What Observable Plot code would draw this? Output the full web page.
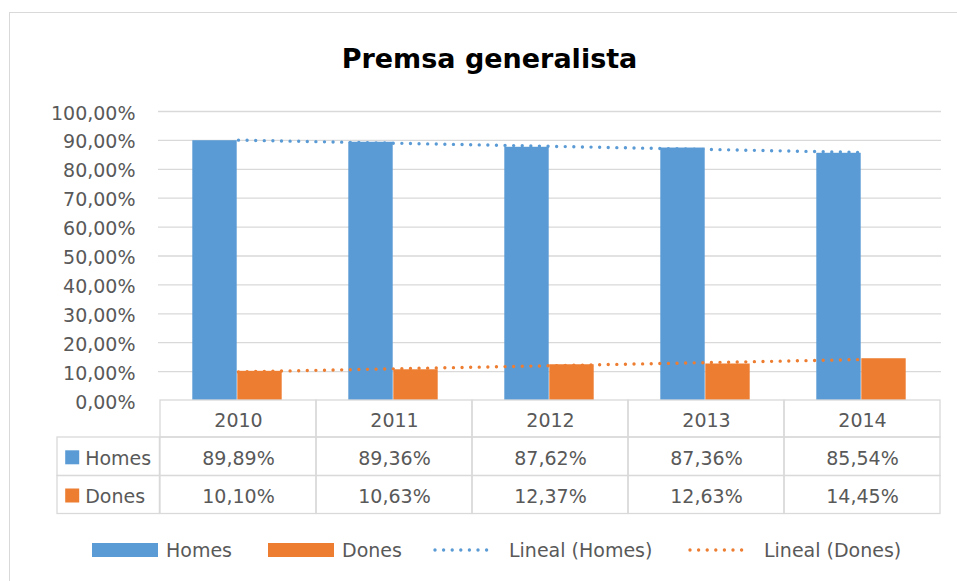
<!DOCTYPE html>
<html><head><meta charset="utf-8">
<script src="https://cdn.jsdelivr.net/npm/d3@7"></script>
<script src="https://cdn.jsdelivr.net/npm/@observablehq/plot@0.6"></script>
<style>
html,body{margin:0;padding:0;background:#fff;}
body{width:957px;height:581px;position:relative;overflow:hidden;font-family:"DejaVu Sans",sans-serif;color:#595959;}
#chart{position:absolute;left:0;top:0;}
#frame{position:absolute;left:9px;top:12px;width:980px;height:600px;border:1.3px solid #d9d9d9;box-sizing:border-box;pointer-events:none;}
#title{position:absolute;left:0;top:44.5px;width:979px;text-align:center;font-weight:bold;font-size:27px;line-height:27px;color:#000;}
.leg{position:absolute;top:541px;height:18px;display:flex;align-items:center;font-size:19px;line-height:18px;color:#595959;white-space:nowrap;}
.sw{display:inline-block;width:66px;height:14px;margin-right:8px;}
.dl{margin-right:12px;}
</style>
</head><body>
<div id="chart"></div>
<div id="frame"></div>
<div id="title">Premsa generalista</div>
<div id="legend"></div>
<script>
// ---- data ----
const years = ["2010", "2011", "2012", "2013", "2014"];
const homes = [89.89, 89.36, 87.62, 87.36, 85.54];
const dones = [10.10, 10.63, 12.37, 12.63, 14.45];
const yTicks = [0, 10, 20, 30, 40, 50, 60, 70, 80, 90, 100];
const seriesNames = ["Homes", "Dones"];
const trendNames = ["Lineal (Homes)", "Lineal (Dones)"];
const colors = ["#5B9BD5", "#ED7D31"];

// ---- layout ----
const W = 957, H = 581, mL = 158, mR = 16, mT = 111, mB = 181;
const bw = (W - mL - mR) / years.length;
const barW = 45;
const grid = "#d9d9d9", txt = "#595959";
const fmt = v => v.toFixed(2).replace(".", ",") + "%";
const rows = years.map((year, i) => ({year, homes: homes[i], dones: dones[i]}));

function trend(vals) {
  const xs = d3.range(vals.length);
  const mx = d3.mean(xs), my = d3.mean(vals);
  const b = d3.sum(xs, (x, i) => (x - mx) * (vals[i] - my)) / d3.sum(xs, x => (x - mx) ** 2);
  return years.map((year, i) => ({year, v: my + b * (i - mx)}));
}
const trends = [trend(homes), trend(dones)];
const seriesVals = [homes, dones];

const rowEdges = [0, 37, 75.5, 113.5];      // table rows below the 0 line
const rowDy = [20.8, 58.3, 96.5];           // text centres of the rows
const firstCentre = mL + bw / 2;

const marks = [];
// gridlines
marks.push(Plot.ruleY(yTicks.filter(t => t > 0), {stroke: grid, strokeWidth: 1.3}));
// bars
marks.push(Plot.barY(rows, {x: "year", y: "homes", fill: colors[0], insetLeft: bw / 2 - barW - 1, insetRight: bw / 2 + 1}));
marks.push(Plot.barY(rows, {x: "year", y: "dones", fill: colors[1], insetLeft: bw / 2 - 1, insetRight: bw / 2 - barW + 1}));
// data table cells
for (let r = 0; r < 3; r++) {
  marks.push(Plot.barY(years, {x: d => d, y1: () => 0, y2: () => 0, insetTop: rowEdges[r], insetBottom: -rowEdges[r + 1], fill: "none", stroke: grid, strokeWidth: 1.3}));
  if (r > 0) {
    marks.push(Plot.barY([years[0]], {x: d => d, y1: () => 0, y2: () => 0, insetTop: rowEdges[r], insetBottom: -rowEdges[r + 1], insetLeft: -103, insetRight: bw, fill: "none", stroke: grid, strokeWidth: 1.3}));
  }
}
// y tick labels
marks.push(Plot.text(yTicks, {y: d => d, text: fmt, frameAnchor: "left", textAnchor: "end", dx: -23, dy: 2, fontSize: 19, fill: txt}));
// year row
marks.push(Plot.text(years, {x: d => d, y: () => 0, text: d => d, dy: rowDy[0], fontSize: 19, fill: txt}));
// value rows + row headers
seriesNames.forEach((name, k) => {
  marks.push(Plot.text(rows, {x: "year", y: () => 0, text: d => fmt(seriesVals[k][years.indexOf(d.year)]), dy: rowDy[k + 1], fontSize: 19, fill: txt}));
  marks.push(Plot.dot([name], {x: () => years[0], y: () => 0, symbol: "square", r: 7.9, fill: colors[k], dx: 70 - firstCentre, dy: rowDy[k + 1] - 1.5}));
  marks.push(Plot.text([name], {x: () => years[0], y: () => 0, text: d => d, textAnchor: "start", dx: 83 - firstCentre, dy: rowDy[k + 1], fontSize: 19, fill: txt}));
});
// trend lines
trends.forEach((t, k) => {
  marks.push(Plot.line(t, {x: "year", y: "v", stroke: colors[k], strokeWidth: 3.4, strokeDasharray: "0 8.6", strokeLinecap: "round"}));
});

const chart = Plot.plot({
  width: W, height: H,
  marginLeft: mL, marginRight: mR, marginTop: mT, marginBottom: mB,
  x: {domain: years, padding: 0, axis: null},
  y: {domain: [0, 100], axis: null},
  style: {fontFamily: "DejaVu Sans", background: "transparent", maxWidth: "none", overflow: "visible"},
  marks
});
document.getElementById("chart").appendChild(chart);

// ---- legend ----
const legend = document.getElementById("legend");
const legLeft = [92, 268, 433, 688];
const items = [
  ...seriesNames.map((n, k) => ({label: n, color: colors[k], kind: "bar"})),
  ...trendNames.map((n, k) => ({label: n, color: colors[k], kind: "dot"}))
];
items.forEach((it, i) => {
  const d = document.createElement("div");
  d.className = "leg";
  d.style.left = legLeft[i] + "px";
  if (it.kind === "bar") {
    d.innerHTML = `<span class="sw" style="background:${it.color}"></span><span>${it.label}</span>`;
  } else {
    d.innerHTML = `<svg class="dl" width="64" height="6"><line x1="2" y1="3" x2="62" y2="3" stroke="${it.color}" stroke-width="3.4" stroke-linecap="round" stroke-dasharray="0 8.6"/></svg><span>${it.label}</span>`;
  }
  legend.appendChild(d);
});
</script>
</body></html>
